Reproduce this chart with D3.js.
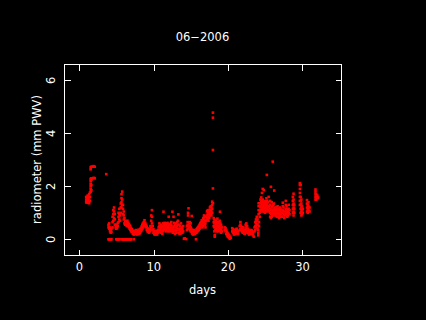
<!DOCTYPE html>
<html>
<head>
<meta charset="utf-8">
<script src="https://cdn.jsdelivr.net/npm/d3@7"></script>
<style>
html,body{margin:0;padding:0;background:#000;}
svg{display:block;}
text{font-family:"DejaVu Sans",sans-serif;fill:#fff;}
</style>
</head>
<body>
<svg id="c" width="426" height="320"></svg>
<script>
const title = "06\u22122006";
const xLabel = "days";
const yLabel = "radiometer (mm PWV)";
const xTicks = [0, 10, 20, 30];
const yTicks = [0, 2, 4, 6];

// [day, pwv values...]
const week1 = [
[0.90,1.40,1.50,1.60],[1.00,1.38,1.48,1.58],[1.10,1.45,1.55,1.65],[1.20,1.42,1.52,1.62],
[1.30,1.36,1.50,1.70],[1.40,1.45,1.60,1.76],[1.50,1.80,1.90,2.00,2.10,2.20,2.28,2.64,2.72],
[1.60,1.85,2.05,2.25,2.30,2.74],[1.75,2.30,2.74],[1.90,2.32,2.76],[2.05,2.30,2.74],
[3.60,2.46],
[3.90,0,0.45,0.55],[4.00,0,0.40,0.60],[4.10,0,0.30,0.45],[4.20,0,0.25,0.35],[4.30,0,0.28,0.40],
[4.45,0.45,0.65,0.85],[4.55,0.70,0.95,1.10],[4.65,0.80,1.05,1.20],[4.75,0.55,0.75,0.95],
[4.85,0.45,0.55],[4.95,0,0.40,0.50],[5.05,0,0.42,0.55],[5.15,0,0.50,0.62],[5.25,0,0.65,0.85,1.00],
[5.35,0,0.75,0.95,1.15],[5.45,0.70,0.90],[5.55,1.00,1.20,1.35],[5.65,0,1.20,1.40,1.55,1.70],
[5.75,0,1.30,1.50,1.80],[5.85,0,0.95,1.15,1.30],[5.95,0,0.75,0.90,1.05],[6.05,0,0.60,0.80],
[6.15,0,0.55,0.70],[6.25,0,0.55,0.68],[6.35,0,0.50,0.65],[6.45,0,0.55,0.70],[6.55,0,0.50,0.62],
[6.65,0,0.45,0.58],[6.75,0,0.40,0.52],[6.85,0,0.35,0.48],[6.95,0,0.30,0.42]
];
const week2 = [
[7.05,0.28,0.38],[7.15,0.22,0.32],[7.25,0.20,0.30],[7.30,0],[7.35,0.18,0.28],[7.45,0.22,0.32],
[7.55,0.20,0.32],[7.65,0.25,0.35],[7.75,0.18,0.28],[7.85,0.22,0.32],[7.95,0.25,0.36],
[8.05,0.20,0.30],[8.15,0.25,0.38],[8.25,0.30,0.42],[8.35,0.35,0.48],[8.45,0.40,0.55],
[8.55,0.45,0.60],[8.65,0.50,0.65],[8.75,0.55,0.72],[8.85,0.50,0.62],[8.95,0.45,0.55],
[9.05,0.35,0.48],[9.15,0.30,0.42],[9.25,0.28,0.38],[9.35,0.25,0.35],[9.45,0.30,0.40],
[9.55,0.35,0.50],[9.65,0.45,0.70,0.90],[9.75,0.60,0.85,1.10],[9.85,0.35,0.50],[9.95,0.25,0.38],
[10.05,0.20,0.30],[10.15,0.18,0.28],[10.25,0.20,0.30],[10.35,0.22,0.32],[10.45,0.18,0.26],
[10.55,0.25,0.35],[10.65,0.30,0.45],[10.75,0.35,0.50,0.60],[10.85,0.30,0.45],[10.95,0.25,0.40,0.55],
[11.05,0.30,0.45],[11.15,0.20,0.35,0.50],[11.25,0.30,0.45,0.60],[11.30,1.04],[11.35,0.40,0.55],
[11.45,0.35,0.50,0.62],[11.55,0.40,0.55],[11.65,0.30,0.45,0.60],[11.75,0.40,0.55],
[11.85,0.35,0.50,0.62],[11.95,0.30,0.45],[12.00,0.85],[12.05,0.40,0.55],[12.15,0.30,0.42,0.58],
[12.25,0.35,0.50],[12.35,0.40,0.55,0.65],[12.45,0.30,0.45],[12.50,1.04],[12.55,0.25,0.40],
[12.65,0.35,0.50,0.85],[12.75,0.30,0.45,0.62],[12.85,0.20,0.35,0.55],[12.95,0.30,0.45,0.60],
[13.05,0.25,0.40],[13.15,0.35,0.50,0.65],[13.25,0.40,0.55,0.70],[13.30,0.94],[13.35,0.25,0.40,0.55],
[13.45,0.20,0.35],[13.55,0.30,0.50],[13.65,0.22,0.40,0.60],[13.75,0.30,0.45],[13.85,0.25,0.40],
[13.95,0.30,0.50]
];
const week3 = [
[14.05,0.02],[14.15,0.04],[14.35,0.01],
[14.45,0.35,0.50],[14.55,0.40,0.55,0.65],[14.60,0.90,1.00],[14.67,1.17],[14.75,0.45,0.60],
[14.85,0.35,0.50,0.65],[14.95,0.30,0.45,0.60],[15.05,0.30,0.40],[15.10,0.88],[15.15,0.22,0.35],
[15.25,0.18,0.30],[15.35,0.20,0.32],[15.45,0.25,0.35],[15.55,0.20,0.30],[15.67,0],
[15.75,0.25,0.38],[15.85,0.30,0.42],[15.95,0.32,0.45],[16.05,0.35,0.50],[16.15,0.40,0.55],
[16.25,0.45,0.60],[16.35,0.50,0.65],[16.45,0.55,0.72],[16.55,0.45,0.60],[16.65,0.50,0.65,0.80],
[16.75,0.60,0.75,0.90],[16.85,0.55,0.70,0.85],[16.95,0.45,0.60],[17.05,0.70,0.85],
[17.15,0.75,0.90,1.05],[17.25,0.80,0.95,1.10],[17.35,0.70,0.85,1.00],[17.45,0.80,0.95,1.10],
[17.55,0.90,1.05,1.20],[17.65,0.95,1.10,1.25],[17.75,0.90,1.05,1.22],[17.85,1.00,1.15,1.30,1.42],
[17.95,1.36,1.92,3.37,4.59,4.78],[18.05,0.50,0.65,0.80],[18.15,0.30,0.45,0.60,0.75],
[18.20,0.10,0.15],[18.25,0.35,0.50,0.65],[18.35,0.40,0.55,0.70],[18.45,0.30,0.45,0.60],
[18.55,0.35,0.50,0.65,0.78],[18.65,0.30,0.45,0.60],[18.75,0.35,0.50,0.65],[18.85,0.40,0.55,0.70],
[18.90,1.04],[18.95,0.30,0.45,0.60],[19.05,0.25,0.40,0.55],[19.15,0.30,0.45],
[19.55,0.35,0.45],[19.65,0.30,0.42],[19.75,0.20,0.35],[19.85,0.15,0.28],[19.95,0.10,0.22],
[20.05,0.08,0.18],[20.15,0.05,0.15],[20.25,0.02,0.10],[20.35,0.06]
];
const week4 = [
[20.55,0.30,0.42],[20.65,0.25,0.38],[20.75,0.20,0.32],[20.85,0.18,0.28],[20.95,0.22,0.35],
[21.05,0.25,0.38],[21.15,0.30,0.40],[21.25,0.20,0.30],[21.35,0.22,0.32],[21.55,0.35,0.50],
[21.65,0.40,0.55,0.65],[21.75,0.35,0.50],[21.85,0.30,0.45],[21.95,0.25,0.40],[22.05,0.30,0.45],
[22.15,0.22,0.35],[22.25,0.20,0.32],[22.35,0.25,0.40,0.55],[22.45,0.30,0.45,0.60],
[22.55,0.35,0.50],[22.65,0.25,0.40],[22.75,0.20,0.32],[22.85,0.18,0.28],[22.95,0.22,0.35],
[23.05,0.20,0.30],[23.15,0.25,0.35],[23.25,0.20,0.30],[23.35,0.15,0.25],[23.45,0.10],
[23.55,0.30,0.45],[23.65,0.35,0.50,0.65],[23.75,0.45,0.60,0.75],[23.85,0.55,0.70,0.85],
[23.95,0.40,0.55,0.75],[24.05,0.15,0.25,0.35],[24.10,0.95,1.10,1.25,1.36],[24.15,0.50,0.65],
[24.25,0.85,1.00],
[24.35,1.05,1.20,1.35,1.50],[24.45,1.10,1.25,1.40,1.58],[24.55,1.15,1.30,1.45,1.75],
[24.65,1.05,1.20,1.35,1.50,1.90],[24.75,1.10,1.25,1.40],[24.80,1.86],[24.85,1.05,1.20,1.35],
[24.95,1.00,1.15,1.30,1.45],[25.05,1.10,1.25,1.40],[25.15,1.05,1.20,1.35,1.55],[25.20,2.43],
[25.25,1.15,1.30,1.45],[25.35,1.10,1.25,1.40],[25.45,1.05,1.20,1.60],[25.55,1.10,1.25],
[25.65,0.85,1.00,1.15,1.30,1.45],[25.75,0.80,0.95,1.10,1.98],[25.85,0.85,1.00,1.20,1.40],
[25.95,0.90,1.05,1.25],[26.00,2.93],[26.05,0.95,1.10,1.30],[26.15,1.00,1.15,1.35],[26.20,1.84],
[26.25,0.90,1.05,1.20],[26.35,0.95,1.10],[26.45,0.90,1.05,1.20],[26.55,0.85,1.00,1.15],
[26.65,0.95,1.10,1.25],[26.75,0.85,1.00,1.15],[26.85,0.80,0.95,1.10],[26.95,0.90,1.05,1.20]
];
const week5 = [
[27.05,0.85,1.00,1.15],[27.15,0.95,1.10],[27.25,0.85,1.00],[27.35,1.10,1.25,1.38],
[27.45,0.90,1.05,1.20],[27.55,0.80,0.95],[27.65,0.90,1.05],[27.75,1.00,1.15,1.30,1.45],
[27.85,0.95,1.10,1.25],[27.95,0.85,1.00,1.15],[28.05,0.90,1.05],[28.15,1.00,1.15,1.30],
[28.25,0.95,1.10],
[28.70,1.00,1.15,1.30,1.45,1.60],[28.80,0.90,1.05,1.20,1.35,1.50,1.72],[28.90,1.00,1.15,1.30],
[29.65,1.30,1.45,1.60,1.75,1.90,2.05,2.12],[29.75,1.00,1.15,1.30,1.45,1.60,2.05],
[29.85,0.90,1.05,1.20,1.35,1.50],[29.95,0.95,1.10,1.25],[30.05,1.00,1.15],
[30.60,1.05,1.20,1.35,1.48],[30.70,1.00,1.15,1.30],[30.80,1.10,1.25,1.40],[30.95,1.05,1.20],
[31.75,1.50,1.60,1.70,1.80,1.88],[31.85,1.50,1.60,1.70],[32.00,1.55,1.65],[32.10,1.58]
];

const points = [];
[week1, week2, week3, week4, week5].forEach(w => w.forEach(r => {
  for (let i = 1; i < r.length; i++) points.push({day: r[0], v: r[i]});
}));

const svg = d3.select("#c");
svg.append("rect").attr("width",426).attr("height",320).attr("fill","#000");

const L = 64, R = 341, T = 64, B = 255;
const x = d3.scaleLinear().domain([-2.085, 35.18]).range([L, R]);
const y = d3.scaleLinear().domain([-0.592, 6.615]).range([B, T]);

const ps = 2.6;
svg.append("g").selectAll("rect").data(points).join("rect")
  .attr("x", d => x(d.day) - ps/2)
  .attr("y", d => y(d.v) - ps/2)
  .attr("width", ps).attr("height", ps)
  .attr("fill", "#ff0000");

// axes with inward ticks
const tl = -6;
const gB = svg.append("g").attr("transform",`translate(0,${B+0.5})`)
  .call(d3.axisBottom(x).tickValues(xTicks).tickSize(tl).tickFormat(""));
const gT = svg.append("g").attr("transform",`translate(0,${T+0.5})`)
  .call(d3.axisTop(x).tickValues(xTicks).tickSize(tl).tickFormat(""));
const gL = svg.append("g").attr("transform",`translate(${L+0.5},0)`)
  .call(d3.axisLeft(y).tickValues(yTicks).tickSize(tl).tickFormat(""));
const gR = svg.append("g").attr("transform",`translate(${R+0.5},0)`)
  .call(d3.axisRight(y).tickValues(yTicks).tickSize(tl).tickFormat(""));
[gB,gT,gL,gR].forEach(g => {
  g.selectAll(".domain").remove();
  g.selectAll("line").attr("stroke","#fff").attr("shape-rendering","crispEdges");
});

svg.append("rect").attr("x",L+0.5).attr("y",T+0.5).attr("width",R-L).attr("height",B-T)
  .attr("fill","none").attr("stroke","#fff").attr("stroke-width",1).attr("shape-rendering","crispEdges");

const fs = "11.5px";
svg.append("g").selectAll("text").data(xTicks).join("text")
  .attr("x", d => x(d)).attr("y", 270.5).attr("text-anchor","middle")
  .style("font-size", fs).text(d => d);
svg.append("g").selectAll("text").data(yTicks).join("text")
  .attr("transform", d => `translate(55,${y(d)}) rotate(-90)`).attr("text-anchor","middle")
  .style("font-size", fs).text(d => d);
svg.append("text").attr("x",(L+R)/2).attr("y",41).attr("text-anchor","middle")
  .style("font-size", fs).text(title);
svg.append("text").attr("x",(L+R)/2).attr("y",294).attr("text-anchor","middle")
  .style("font-size", fs).text(xLabel);
svg.append("text").attr("transform",`translate(41,${(T+B)/2}) rotate(-90)`).attr("text-anchor","middle")
  .style("font-size", fs).text(yLabel);
</script>
</body>
</html>
